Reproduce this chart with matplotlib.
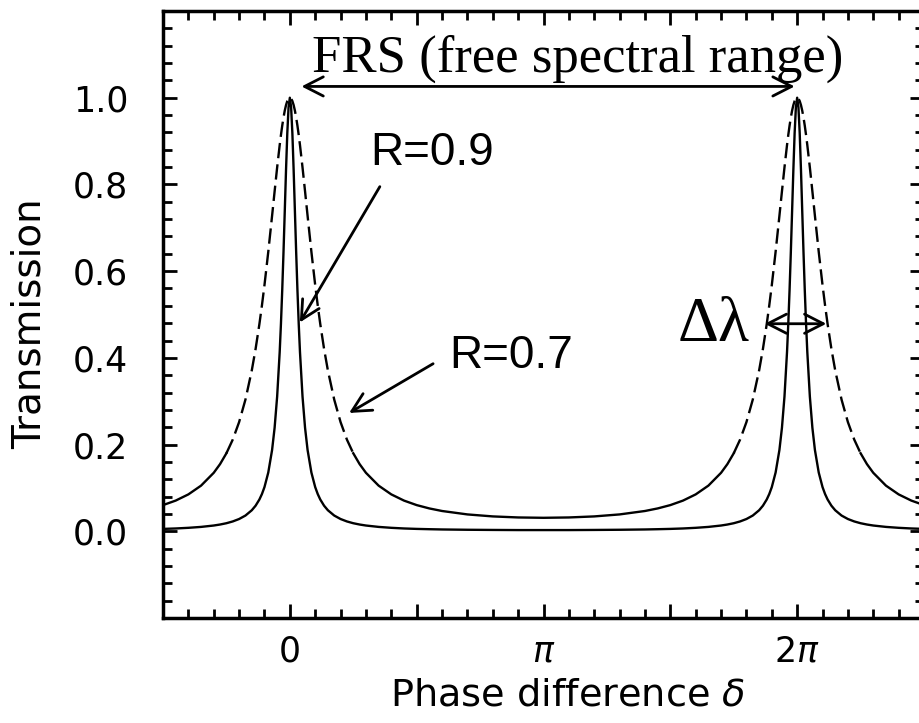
import numpy as np
import matplotlib
matplotlib.use("Agg")
import matplotlib.pyplot as plt
from matplotlib.ticker import MultipleLocator, FixedLocator

# ---- data (phase difference in units of pi, transmission) ----
delta_pi = [-0.5, -0.45, -0.4, -0.35, -0.3, -0.275, -0.25, -0.225, -0.2, -0.175, -0.15, -0.135,
            -0.12, -0.11, -0.1, -0.085, -0.07, -0.06, -0.05, -0.04, -0.035, -0.03, -0.025,
            -0.02, -0.015, -0.01, -0.005, 0.0,
            0.005, 0.01, 0.015, 0.02, 0.025, 0.03, 0.035, 0.04, 0.05, 0.06, 0.07, 0.085, 0.1,
            0.11, 0.12, 0.135, 0.15, 0.175, 0.2, 0.225, 0.25, 0.275, 0.3, 0.35, 0.4, 0.45,
            0.5, 0.55, 0.6, 0.7, 0.8, 0.9, 1.0,
            1.1, 1.2, 1.3, 1.4, 1.45, 1.5, 1.55, 1.6, 1.65, 1.7, 1.725, 1.75, 1.775, 1.8,
            1.825, 1.85, 1.865, 1.88, 1.89, 1.9, 1.915, 1.93, 1.94, 1.95, 1.96, 1.965, 1.97,
            1.975, 1.98, 1.985, 1.99, 1.995, 2.0,
            2.005, 2.01, 2.015, 2.02, 2.025, 2.03, 2.035, 2.04, 2.05, 2.06, 2.07, 2.085, 2.1,
            2.11, 2.12, 2.135, 2.15, 2.175, 2.2, 2.225, 2.25, 2.275, 2.3, 2.35, 2.4, 2.45, 2.5]

trans_r09 = [0.0055, 0.0065, 0.0080, 0.0101, 0.0133, 0.0156, 0.0186, 0.0227, 0.0283, 0.0363,
             0.0485, 0.0590, 0.0733, 0.0859, 0.1019, 0.1355, 0.1874, 0.2388, 0.3109, 0.4133,
             0.4791, 0.5559, 0.6431, 0.7379, 0.8335, 0.9184, 0.9783, 1.0,
             0.9783, 0.9184, 0.8335, 0.7379, 0.6431, 0.5559, 0.4791, 0.4133, 0.3109, 0.2388,
             0.1874, 0.1355, 0.1019, 0.0859, 0.0733, 0.0590, 0.0485, 0.0363, 0.0283, 0.0227,
             0.0186, 0.0156, 0.0133, 0.0101, 0.0080, 0.0065, 0.0055, 0.0048, 0.0042, 0.0035,
             0.0031, 0.0028, 0.0028,
             0.0028, 0.0031, 0.0035, 0.0042, 0.0048, 0.0055, 0.0065, 0.0080, 0.0101, 0.0133,
             0.0156, 0.0186, 0.0227, 0.0283, 0.0363, 0.0485, 0.0590, 0.0733, 0.0859, 0.1019,
             0.1355, 0.1874, 0.2388, 0.3109, 0.4133, 0.4791, 0.5559, 0.6431, 0.7379, 0.8335,
             0.9184, 0.9783, 1.0,
             0.9783, 0.9184, 0.8335, 0.7379, 0.6431, 0.5559, 0.4791, 0.4133, 0.3109, 0.2388,
             0.1874, 0.1355, 0.1019, 0.0859, 0.0733, 0.0590, 0.0485, 0.0363, 0.0283, 0.0227,
             0.0186, 0.0156, 0.0133, 0.0101, 0.0080, 0.0065, 0.0055]

trans_r07 = [0.0604, 0.0708, 0.0851, 0.1053, 0.1349, 0.1550, 0.1800, 0.2115, 0.2518, 0.3037,
             0.3710, 0.4205, 0.4779, 0.5209, 0.5677, 0.6446, 0.7275, 0.7840, 0.8393, 0.8907,
             0.9141, 0.9354, 0.9542, 0.9702, 0.9830, 0.9924, 0.9981, 1.0,
             0.9981, 0.9924, 0.9830, 0.9702, 0.9542, 0.9354, 0.9141, 0.8907, 0.8393, 0.7840,
             0.7275, 0.6446, 0.5677, 0.5209, 0.4779, 0.4205, 0.3710, 0.3037, 0.2518, 0.2115,
             0.1800, 0.1550, 0.1349, 0.1053, 0.0851, 0.0708, 0.0604, 0.0527, 0.0468, 0.0389,
             0.0343, 0.0319, 0.0311,
             0.0319, 0.0343, 0.0389, 0.0468, 0.0527, 0.0604, 0.0708, 0.0851, 0.1053, 0.1349,
             0.1550, 0.1800, 0.2115, 0.2518, 0.3037, 0.3710, 0.4205, 0.4779, 0.5209, 0.5677,
             0.6446, 0.7275, 0.7840, 0.8393, 0.8907, 0.9141, 0.9354, 0.9542, 0.9702, 0.9830,
             0.9924, 0.9981, 1.0,
             0.9981, 0.9924, 0.9830, 0.9702, 0.9542, 0.9354, 0.9141, 0.8907, 0.8393, 0.7840,
             0.7275, 0.6446, 0.5677, 0.5209, 0.4779, 0.4205, 0.3710, 0.3037, 0.2518, 0.2115,
             0.1800, 0.1550, 0.1349, 0.1053, 0.0851, 0.0708, 0.0604]

x_tick_pos = [-0.5, 0.0, 0.5, 1.0, 1.5, 2.0, 2.5]
x_tick_labels = ['', '0', '', r'$\pi$', '', r'2$\pi$', '']
y_tick_pos = [0.0, 0.2, 0.4, 0.6, 0.8, 1.0]
y_tick_labels = ['0.0', '0.2', '0.4', '0.6', '0.8', '1.0']

# ---- figure ----
W, H = 919, 723
plt.rcParams['mathtext.fontset'] = 'dejavusans'
fig = plt.figure(figsize=(W / 100, H / 100), dpi=100)
ax = fig.add_axes([163 / W, 1 - 618 / H, (924 - 163) / W, (618 - 11) / H])

n = min(len(delta_pi), len(trans_r09), len(trans_r07))
x = np.array(delta_pi[:n])
t9 = np.array(trans_r09[:n])
t7 = np.array(trans_r07[:n])

ax.plot(x, t9, color='black', lw=1.7, solid_capstyle='butt')
t7_dash = np.where(t7 >= 0.179, t7, np.nan)
t7_solid = np.where(t7 <= 0.181, t7, np.nan)
ax.plot(x, t7_dash, color='black', lw=1.7, linestyle=(0, (6.5, 2.6)))
ax.plot(x, t7_solid, color='black', lw=1.7)

ax.set_xlim(-0.5, 2.5)
ax.set_ylim(-0.2, 1.2)

ax.xaxis.set_major_locator(FixedLocator(x_tick_pos))
ax.set_xticklabels(x_tick_labels)
ax.xaxis.set_minor_locator(MultipleLocator(0.1))
ax.yaxis.set_major_locator(FixedLocator(y_tick_pos))
ax.set_yticklabels(y_tick_labels)
ax.yaxis.set_minor_locator(MultipleLocator(0.04))

ax.tick_params(which='both', direction='in', top=True, right=True, width=2, colors='black')
ax.tick_params(which='major', length=10)
ax.tick_params(which='minor', length=6.5)
ax.tick_params(axis='x', which='major', pad=12, labelsize=25)
ax.tick_params(axis='y', which='major', pad=25, labelsize=25)
for lab in ax.get_xticklabels() + ax.get_yticklabels():
    lab.set_family('DejaVu Sans')
for sp in ax.spines.values():
    sp.set_linewidth(2.5)

fig.text(568 / W, 1 - 695 / H, r'Phase difference $\delta$', ha='center', va='center',
         fontsize=27.5, family='DejaVu Sans')
fig.text(30 / W, 1 - 324 / H, 'Transmission', ha='center', va='center', rotation=90,
         fontsize=28, family='DejaVu Sans')

# ---- annotations ----
ax.text(1.133, 1.061, 'FRS (free spectral range)', ha='center', va='baseline',
        fontsize=38, family='Liberation Serif')
ax.annotate('', xy=(0.046, 1.026), xytext=(1.990, 1.026),
            arrowprops=dict(arrowstyle='<->, head_length=0.45, head_width=0.23',
                            mutation_scale=30, lw=2, color='black', shrinkA=0, shrinkB=0))

ax.text(0.5617, 0.845, 'R=0.9', ha='center', va='baseline', fontsize=33,
        family='Liberation Sans')
ax.annotate('', xy=(0.0394, 0.4817), xytext=(0.3548, 0.7949),
            arrowprops=dict(arrowstyle='->, head_length=0.45, head_width=0.23',
                            mutation_scale=30, lw=2, color='black', shrinkA=0, shrinkB=0))

ax.text(0.873, 0.3766, 'R=0.7', ha='center', va='baseline', fontsize=33,
        family='Liberation Sans')
ax.annotate('', xy=(0.2337, 0.2729), xytext=(0.5648, 0.3865),
            arrowprops=dict(arrowstyle='->, head_length=0.45, head_width=0.23',
                            mutation_scale=30, lw=2, color='black', shrinkA=0, shrinkB=0))

ax.text(1.671, 0.439, 'Δλ', ha='center', va='baseline', fontsize=46,
        family='Liberation Serif')
ax.annotate('', xy=(1.872, 0.4787), xytext=(2.115, 0.4787),
            arrowprops=dict(arrowstyle='<->, head_length=0.45, head_width=0.23',
                            mutation_scale=30, lw=2, color='black', shrinkA=0, shrinkB=0))

fig.savefig('out.png', dpi=100)
